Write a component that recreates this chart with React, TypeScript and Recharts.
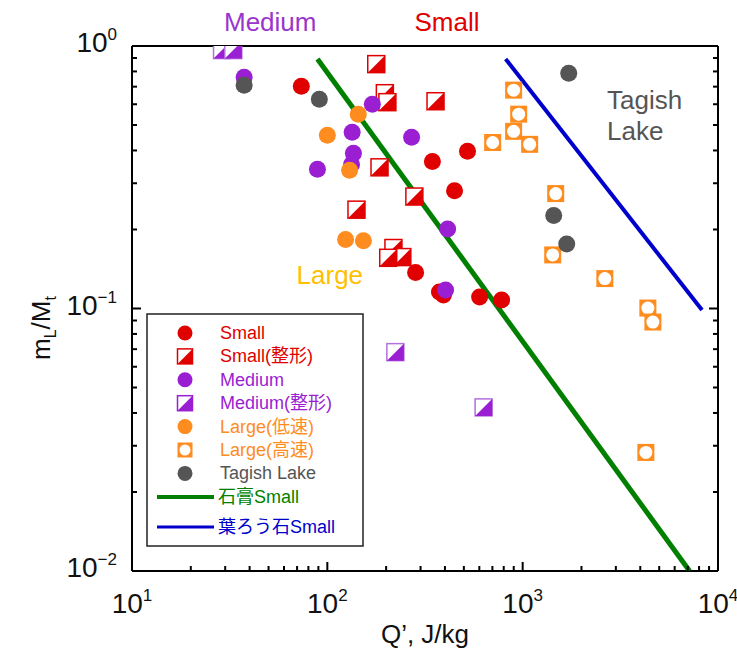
import { ScatterChart, Scatter, XAxis, YAxis, Legend, ReferenceDot, Label } from 'recharts';

// Q' [J/kg] vs mL/Mt
const smallDots = [
  { x: 73.6, y: 0.703 }, { x: 345, y: 0.363 }, { x: 522, y: 0.397 }, { x: 448, y: 0.281 },
  { x: 283, y: 0.137 }, { x: 375, y: 0.1156 }, { x: 393, y: 0.1126 }, { x: 602, y: 0.1107 },
  { x: 780, y: 0.1078 },
];
const smallShaped = [
  { x: 178, y: 0.853 }, { x: 197, y: 0.661 }, { x: 203, y: 0.611 }, { x: 358, y: 0.616 },
  { x: 185, y: 0.345 }, { x: 279, y: 0.267 }, { x: 141, y: 0.238 }, { x: 218, y: 0.17 },
  { x: 242, y: 0.157 }, { x: 205, y: 0.156 },
];
const mediumDots = [
  { x: 37.5, y: 0.761 }, { x: 170, y: 0.6 }, { x: 134, y: 0.469 }, { x: 270, y: 0.449 },
  { x: 136, y: 0.39 }, { x: 133, y: 0.354 }, { x: 89, y: 0.339 }, { x: 413, y: 0.201 },
  { x: 403, y: 0.1177 },
];
const mediumShaped = [
  { x: 28.9, y: 0.965 }, { x: 33, y: 0.965 }, { x: 223, y: 0.0682 }, { x: 631, y: 0.042 },
];
const largeSlow = [
  { x: 144, y: 0.55 }, { x: 100, y: 0.457 }, { x: 130, y: 0.336 }, { x: 124, y: 0.183 },
  { x: 153, y: 0.181 },
];
const largeFast = [
  { x: 899, y: 0.679 }, { x: 954, y: 0.55 }, { x: 899, y: 0.473 }, { x: 702, y: 0.429 },
  { x: 1086, y: 0.422 }, { x: 1476, y: 0.274 }, { x: 1425, y: 0.16 }, { x: 2634, y: 0.13 },
  { x: 4375, y: 0.1004 }, { x: 4642, y: 0.0888 }, { x: 4273, y: 0.0283 },
];
const tagish = [
  { x: 37.5, y: 0.709 }, { x: 91, y: 0.627 }, { x: 1721, y: 0.788 }, { x: 1442, y: 0.226 },
  { x: 1681, y: 0.176 },
];
const gypsumLine = [{ x: 89, y: 0.892 }, { x: 7150, y: 0.01 }];
const pyrophylliteLine = [{ x: 818, y: 0.892 }, { x: 8280, y: 0.0987 }];

const xTicks = [
  10, 20, 30, 40, 50, 60, 70, 80, 90,
  100, 200, 300, 400, 500, 600, 700, 800, 900,
  1000, 2000, 3000, 4000, 5000, 6000, 7000, 8000, 9000, 10000,
];
const yTicks = [
  0.01, 0.02, 0.03, 0.04, 0.05, 0.06, 0.07, 0.08, 0.09,
  0.1, 0.2, 0.3, 0.4, 0.5, 0.6, 0.7, 0.8, 0.9, 1,
];

const RED = '#E00000';
const PURPLE = '#9A1ED2';
const ORANGE = '#FF8C1E';
const GRAY = '#555555';
const GREEN = '#007F00';
const BLUE = '#0000CC';

const numFont = '"Liberation Sans Narrow", "Liberation Sans", Arial, sans-serif';
const textFont = '"Liberation Sans", Arial, "Noto Sans CJK JP", sans-serif';

const exponent = (v: number) => Math.round(Math.log10(v));
const isMajor = (v: number) => Math.abs(Math.log10(v) - exponent(v)) < 1e-6;
const expText = (v: number) => (exponent(v) < 0 ? '\u2212' + Math.abs(exponent(v)) : String(exponent(v)));

function BottomTick({ x, y, payload }: any) {
  const v = payload.value;
  const major = isMajor(v);
  return (
    <g>
      <line x1={x} x2={x} y1={y} y2={y - (major ? 9 : 5)} stroke="#000" strokeWidth={2} />
      {major && (
        <text x={x} y={y + 42} textAnchor="middle" fontSize={28} fontFamily={numFont} fill="#111">
          10<tspan dy={-12} fontSize={17}>{expText(v)}</tspan>
        </text>
      )}
    </g>
  );
}

function TopTick({ x, y, payload }: any) {
  const major = isMajor(payload.value);
  return <line x1={x} x2={x} y1={y} y2={y + (major ? 9 : 5)} stroke="#000" strokeWidth={2} />;
}

function LeftTick({ x, y, payload }: any) {
  const v = payload.value;
  const major = isMajor(v);
  return (
    <g>
      <line x1={x} x2={x + (major ? 9 : 5)} y1={y} y2={y} stroke="#000" strokeWidth={2} />
      {major && (
        <text x={x - 15} y={y + 6} textAnchor="end" fontSize={28} fontFamily={numFont} fill="#111">
          10<tspan dy={-12} fontSize={17}>{expText(v)}</tspan>
        </text>
      )}
    </g>
  );
}

function RightTick({ x, y, payload }: any) {
  const major = isMajor(payload.value);
  return <line x1={x} x2={x - (major ? 9 : 5)} y1={y} y2={y} stroke="#000" strokeWidth={2} />;
}

const dot = (color: string, r = 8.5) => (p: any) => <circle cx={p.cx} cy={p.cy} r={r} fill={color} />;

const halfSquare = (color: string, edge: string, s = 8.5) => (p: any) => (
  <g>
    <rect x={p.cx - s} y={p.cy - s} width={2 * s} height={2 * s} fill="#fff" stroke={edge} strokeWidth={1.5} />
    <polygon points={`${p.cx - s},${p.cy + s} ${p.cx + s},${p.cy - s} ${p.cx + s},${p.cy + s}`} fill={color} />
  </g>
);

const openSquare = (s = 8.5) => (p: any) => (
  <g>
    <rect x={p.cx - s} y={p.cy - s} width={2 * s} height={2 * s} fill={ORANGE} />
    <circle cx={p.cx} cy={p.cy} r={s - 2} fill="#fff" />
  </g>
);

const noMark = () => <g />;

const legendRows = [
  { name: 'Small', color: RED, mark: dot(RED, 7.5) },
  { name: 'Small(整形)', color: RED, mark: halfSquare(RED, RED, 7.5) },
  { name: 'Medium', color: PURPLE, mark: dot(PURPLE, 7.5) },
  { name: 'Medium(整形)', color: PURPLE, mark: halfSquare(PURPLE, PURPLE, 7.5) },
  { name: 'Large(低速)', color: ORANGE, mark: dot(ORANGE, 7.5) },
  { name: 'Large(高速)', color: ORANGE, mark: openSquare(7.5) },
  { name: 'Tagish Lake', color: GRAY, mark: dot(GRAY, 7.5) },
];
const legendLines = [
  { name: '石膏Small', color: GREEN, width: 4 },
  { name: '葉ろう石Small', color: BLUE, width: 3 },
];

function LegendBox() {
  return (
    <svg width={218} height={234}>
      <rect x={1} y={1} width={216} height={232} fill="#fff" stroke="#222" strokeWidth={1.5} />
      {legendRows.map((row, i) => {
        const cy = 20 + i * 23.4;
        return (
          <g key={row.name}>
            {row.mark({ cx: 39, cy })}
            <text x={74} y={cy + 6} fontSize={18} fontFamily={textFont} fill={row.color}>
              {row.name}
            </text>
          </g>
        );
      })}
      {legendLines.map((row, i) => {
        const cy = 184 + i * 30;
        return (
          <g key={row.name}>
            <line x1={11} x2={68} y1={cy} y2={cy} stroke={row.color} strokeWidth={row.width} />
            <text x={72} y={cy + 6} fontSize={18} fontFamily={textFont} fill={row.color}>
              {row.name}
            </text>
          </g>
        );
      })}
    </svg>
  );
}

const YTitle = ({ viewBox }: any) => (
  <text
    transform={`translate(${viewBox.x - 2}, ${viewBox.y + 282}) rotate(-90)`}
    textAnchor="middle"
    fontSize={26}
    fontFamily={numFont}
    fill="#111"
  >
    m<tspan dy={6} fontSize={16}>L</tspan>
    <tspan dy={-6} fontSize={26}>/M</tspan>
    <tspan dy={6} fontSize={16}>t</tspan>
  </text>
);

const XTitle = ({ viewBox }: any) => (
  <text x={viewBox.x + viewBox.width / 2} y={viewBox.y + 72} textAnchor="middle" fontSize={26} fontFamily={numFont} fill="#111">
    Q’, J/kg
  </text>
);

const note = (value: string, color: string, position: any = 'center') => ({
  value,
  position,
  offset: 0,
  fill: color,
  fontSize: 26,
  fontFamily: textFont,
});

export default function App() {
  return (
    <div style={{ position: 'absolute', left: 0, top: 0, background: '#fff' }}>
      <ScatterChart width={737} height={652} margin={{ top: 36, right: 9, bottom: 21, left: 52 }}>
        <XAxis
          dataKey="x"
          type="number"
          scale="log"
          domain={[10, 10000]}
          ticks={xTicks}
          interval={0}
          allowDataOverflow
          height={60}
          tickSize={0}
          tickMargin={0}
          tickLine={false}
          axisLine={{ stroke: '#000', strokeWidth: 2 }}
          tick={<BottomTick />}
        >
          <Label content={<XTitle />} />
        </XAxis>
        <XAxis
          xAxisId="top"
          orientation="top"
          type="number"
          scale="log"
          domain={[10, 10000]}
          ticks={xTicks}
          interval={0}
          allowDataOverflow
          height={10}
          tickSize={0}
          tickMargin={0}
          tickLine={false}
          axisLine={{ stroke: '#000', strokeWidth: 2 }}
          tick={<TopTick />}
        />
        <YAxis
          dataKey="y"
          type="number"
          scale="log"
          domain={[0.01, 1]}
          ticks={yTicks}
          interval={0}
          allowDataOverflow
          width={80}
          tickSize={0}
          tickMargin={0}
          tickLine={false}
          axisLine={{ stroke: '#000', strokeWidth: 2 }}
          tick={<LeftTick />}
        >
          <Label content={<YTitle />} />
        </YAxis>
        <YAxis
          yAxisId="right"
          orientation="right"
          type="number"
          scale="log"
          domain={[0.01, 1]}
          ticks={yTicks}
          interval={0}
          allowDataOverflow
          width={10}
          tickSize={0}
          tickMargin={0}
          tickLine={false}
          axisLine={{ stroke: '#000', strokeWidth: 2 }}
          tick={<RightTick />}
        />

        <Scatter data={gypsumLine} line={{ stroke: GREEN, strokeWidth: 5 }} shape={noMark} legendType="none" isAnimationActive={false} />
        <Scatter data={pyrophylliteLine} line={{ stroke: BLUE, strokeWidth: 4 }} shape={noMark} legendType="none" isAnimationActive={false} />

        <Scatter name="Small(整形)" data={smallShaped} shape={halfSquare(RED, RED)} isAnimationActive={false} />
        <Scatter name="Small" data={smallDots} shape={dot(RED)} isAnimationActive={false} />
        <Scatter name="Large(高速)" data={largeFast} shape={openSquare()} isAnimationActive={false} />
        <Scatter name="Medium(整形)" data={mediumShaped} shape={halfSquare(PURPLE, '#B470E0')} isAnimationActive={false} />
        <Scatter name="Medium" data={mediumDots} shape={dot(PURPLE)} isAnimationActive={false} />
        <Scatter name="Large(低速)" data={largeSlow} shape={dot(ORANGE)} isAnimationActive={false} />
        <Scatter name="Tagish Lake" data={tagish} shape={dot(GRAY)} isAnimationActive={false} />

        <ReferenceDot x={51} y={1.234} r={0} ifOverflow="visible" label={note('Medium', '#9A35CC')} />
        <ReferenceDot x={410} y={1.234} r={0} ifOverflow="visible" label={note('Small', '#E00000')} />
        <ReferenceDot x={103} y={0.134} r={0} ifOverflow="visible" label={note('Large', '#FFC000')} />
        <ReferenceDot x={2704} y={0.623} r={0} ifOverflow="visible" label={note('Tagish', GRAY, 'right')} />
        <ReferenceDot x={2704} y={0.474} r={0} ifOverflow="visible" label={note('Lake', GRAY, 'right')} />

        <Legend
          layout="vertical"
          align="center"
          verticalAlign="middle"
          content={() => <LegendBox />}
          wrapperStyle={{ left: 146, top: 313, width: 218, height: 234 }}
        />
      </ScatterChart>
    </div>
  );
}
